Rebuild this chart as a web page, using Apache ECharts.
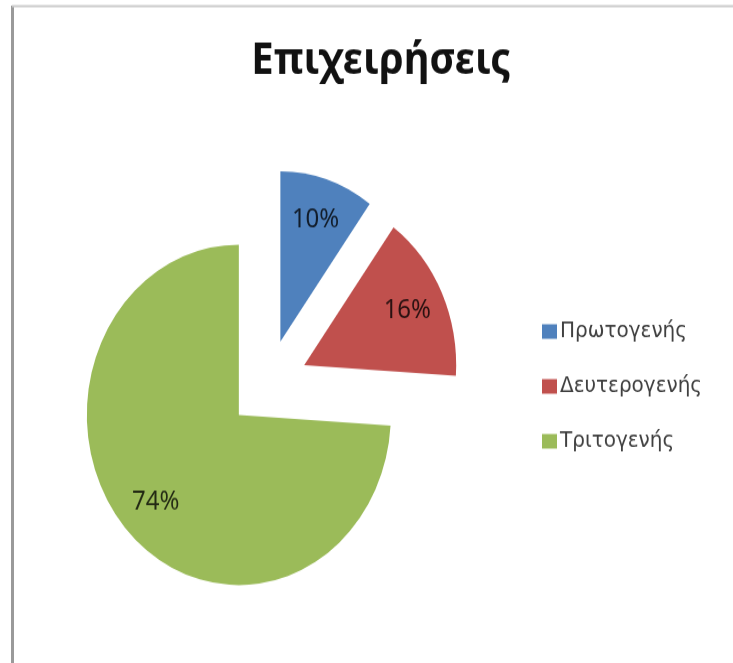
<!DOCTYPE html>
<html>
<head>
<meta charset="utf-8">
<script src="https://cdn.jsdelivr.net/npm/echarts@6/dist/echarts.min.js"></script>
<style>
  html, body { margin: 0; padding: 0; background: #fff; overflow: hidden; }
  #wrap { width: 733px; height: 663px; overflow: hidden; }
  /* chart is laid out on a 733x592 canvas and drawn taller */
  #chart { width: 733px; height: 592px; transform: scale(1, 1.12); transform-origin: 0 0; }
</style>
</head>
<body>
<div id="wrap"><div id="chart"></div></div>
<script>
const titleText = 'Επιχειρήσεις';
const categories = ['Πρωτογενής', 'Δευτερογενής', 'Τριτογενής'];
const values = [10, 16, 74];
const colors = ['#4F81BD', '#C0504D', '#9BBB59'];

const R = 152;
const center = [268, 343];
const explode = 40;

const sliceData = categories.map((name, i) => ({
  name: name,
  value: values[i],
  selected: true,
  itemStyle: { color: colors[i] }
}));

const labelData = categories.map((name, i) => ({
  name: name,
  value: values[i],
  selected: true
}));

const chart = echarts.init(document.getElementById('chart'), null, { renderer: 'canvas' });

chart.setOption({
  animation: false,
  backgroundColor: '#ffffff',
  title: {
    text: titleText,
    left: 376,
    textAlign: 'center',
    top: 30,
    textStyle: {
      fontFamily: 'Noto Sans',
      fontSize: 40,
      fontWeight: 'bold',
      color: '#111111'
    }
  },
  legend: {
    orient: 'vertical',
    left: 537,
    top: 281,
    itemWidth: 15,
    itemHeight: 13,
    itemGap: 29,
    icon: 'rect',
    selectedMode: false,
    data: categories,
    textStyle: {
      fontFamily: 'DejaVu Sans',
      fontSize: 20,
      lineHeight: 18,
      color: '#404040',
      padding: [0, 0, 0, -2]
    }
  },
  graphic: [
    { type: 'line', silent: true, shape: { x1: 12.5, y1: 5, x2: 12.5, y2: 600 }, style: { stroke: '#9a9a9a', lineWidth: 3 } },
    { type: 'line', silent: true, shape: { x1: 12, y1: 5.5, x2: 733, y2: 5.5 }, style: { stroke: '#cccccc', lineWidth: 2 } }
  ],
  series: [
    {
      type: 'pie',
      center: center,
      radius: [0, R],
      startAngle: 90,
      clockwise: true,
      selectedMode: 'multiple',
      selectedOffset: explode,
      avoidLabelOverlap: false,
      label: { show: false },
      labelLine: { show: false },
      emphasis: { disabled: true },
      data: sliceData
    },
    {
      type: 'pie',
      silent: true,
      center: center,
      radius: [70, R],
      startAngle: 90,
      clockwise: true,
      selectedMode: 'multiple',
      selectedOffset: explode,
      avoidLabelOverlap: false,
      itemStyle: { color: 'rgba(0,0,0,0)' },
      label: {
        show: true,
        position: 'inside',
        formatter: '{d}%',
        fontFamily: 'Noto Sans',
        fontSize: 24,
        color: 'rgba(0,0,0,0.78)'
      },
      labelLine: { show: false },
      emphasis: { disabled: true },
      data: labelData
    }
  ]
});
</script>
</body>
</html>
